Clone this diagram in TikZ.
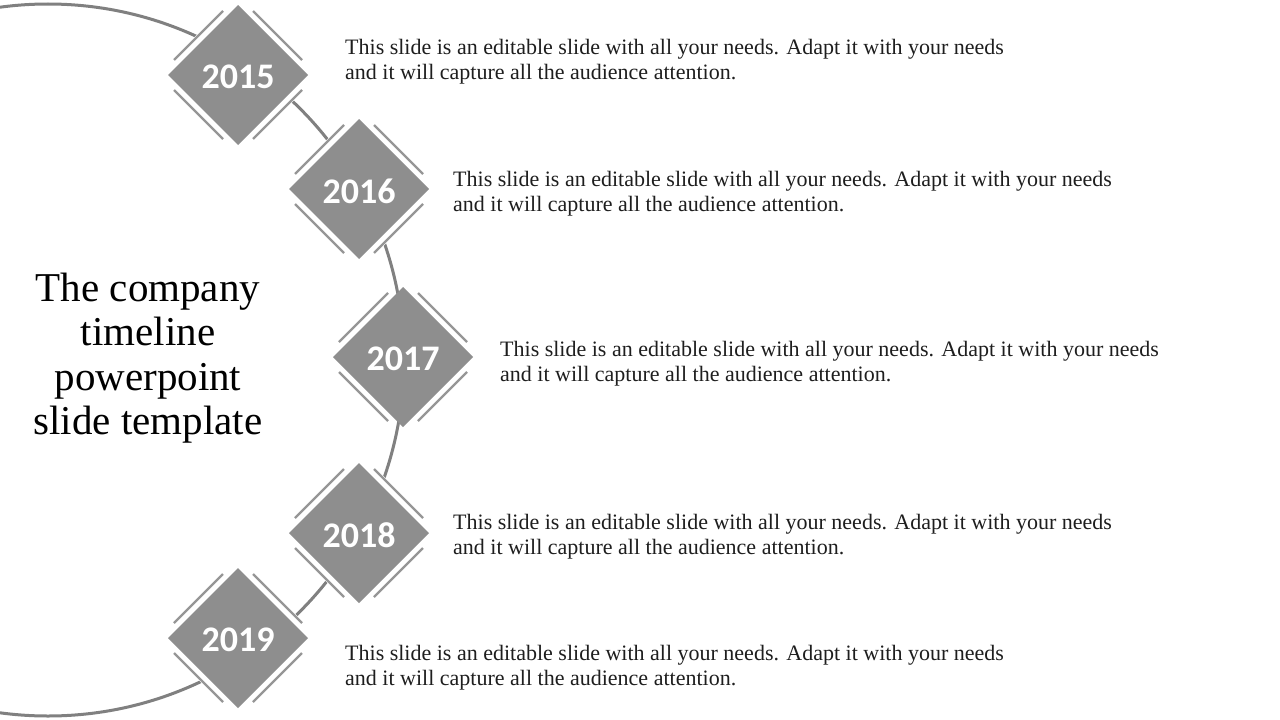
\documentclass[tikz,border=0pt]{standalone}
\usepackage{fontspec}
\setmainfont{Liberation Serif}
\newfontfamily\yearfont{Carlito}
\definecolor{dfill}{RGB}{142,142,142}
\definecolor{dline}{RGB}{150,150,150}
\definecolor{arcgray}{RGB}{128,128,128}
\definecolor{bodytext}{RGB}{30,30,30}
\begin{document}
\begin{tikzpicture}[x=1pt,y=-1pt,
  band/.style={white,line width=9pt},
  edgeline/.style={dline,line width=2.2pt},
  yearlabel/.style={text=white,inner sep=0pt,font=\yearfont\bfseries\fontsize{36}{36}\selectfont},
  bodylabel/.style={text=bodytext,inner sep=0pt,anchor=north west,align=left,font=\fontsize{22}{25}\selectfont},
  titlelabel/.style={text=black,inner sep=0pt,align=center,font=\fontsize{41}{44.5}\selectfont}]
\useasboundingbox (0,0) rectangle (1280,720);
\fill[white] (0,0) rectangle (1280,720);
% large arc
\draw[arcgray,line width=3pt] (48,360) circle[radius=356];
% diamonds
\foreach \cx/\cy/\yr in {238/75/2015,359/189/2016,403/357/2017,359/533/2018,238/638/2019}{
  \begin{scope}[shift={(\cx,\cy)}]
    \draw[band] (-62,-13) -- (-13,-62);
    \draw[band] (13,-62) -- (62,-13);
    \draw[band] (62,13) -- (13,62);
    \draw[band] (-13,62) -- (-62,13);
    \fill[dfill] (0,-70) -- (70,0) -- (0,70) -- (-70,0) -- cycle;
    \draw[edgeline] (-64,-15) -- (-15,-64);
    \draw[edgeline] (15,-64) -- (64,-15);
    \draw[edgeline] (64,15) -- (15,64);
    \draw[edgeline] (-15,64) -- (-64,15);
    \node[yearlabel] (y\yr) at (0,2) {\yr};
  \end{scope}
}
% texts
\node[bodylabel] (t2015) at (345,39) {This slide is an editable slide with all your needs. Adapt it with your needs\\and it will capture all the audience attention.};
\node[bodylabel] (t2016) at (453,171) {This slide is an editable slide with all your needs. Adapt it with your needs\\and it will capture all the audience attention.};
\node[bodylabel] (t2017) at (500,341) {This slide is an editable slide with all your needs. Adapt it with your needs\\and it will capture all the audience attention.};
\node[bodylabel] (t2018) at (453,514) {This slide is an editable slide with all your needs. Adapt it with your needs\\and it will capture all the audience attention.};
\node[bodylabel] (t2019) at (345,645) {This slide is an editable slide with all your needs. Adapt it with your needs\\and it will capture all the audience attention.};
\node[titlelabel] (title) at (148,358) {The company\\timeline\\powerpoint\\slide template};
\end{tikzpicture}
\end{document}
